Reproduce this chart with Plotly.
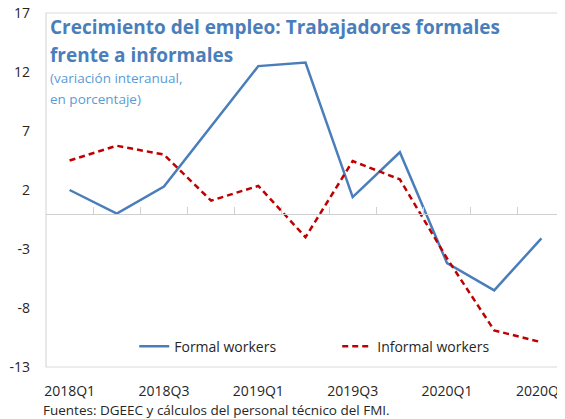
import plotly.graph_objects as go

quarters = ["2018Q1", "2018Q2", "2018Q3", "2018Q4", "2019Q1", "2019Q2",
            "2019Q3", "2019Q4", "2020Q1", "2020Q2", "2020Q3"]
formal = [2.0, 0.0, 2.3, 7.4, 12.5, 12.8, 1.4, 5.2, -4.2, -6.5, -2.1]
informal = [4.5, 5.75, 5.0, 1.1, 2.35, -2.0, 4.45, 2.9, -3.8, -9.9, -10.9]
x_tick_labels = ["2018Q1", "2018Q3", "2019Q1", "2019Q3", "2020Q1", "2020Q3"]
y_tick_vals = [17, 12, 7, 2, -3, -8, -13]
y_tick_text = ["17", "12", "7", "2", "-3", "-8", "-13"]

FONT = "Open Sans"
BLUE = "#4a7ebb"
RED = "#c00000"

fig = go.Figure()
fig.add_trace(go.Scatter(x=quarters, y=formal, mode="lines", name="Formal workers",
                         line=dict(color=BLUE, width=2.5)))
fig.add_trace(go.Scatter(x=quarters, y=informal, mode="lines", name="Informal workers",
                         line=dict(color=RED, width=2.5, dash="6px,4px")))

n = len(quarters)
# page body has an 8px default margin, so the figure is sized to fit the window
fig.update_layout(
    width=557, height=411,
    margin=dict(l=38, r=0, t=5, b=52, autoexpand=False),
    plot_bgcolor="white", paper_bgcolor="white",
    font=dict(family=FONT, size=13, color="#262626"),
    showlegend=True,
    legend=dict(orientation="h", x=0.17, y=0.012, xanchor="left", yanchor="bottom",
                bgcolor="rgba(0,0,0,0)", font=dict(size=14, color="#262626"),
                entrywidth=158, itemwidth=30),
    xaxis=dict(type="category", categoryarray=quarters, range=[-0.5, n - 0.5],
               tickvals=x_tick_labels, ticktext=x_tick_labels, automargin=False,
               showline=False, showgrid=False, zeroline=False, ticks="",
               ticklabelstandoff=14, tickfont=dict(size=14), ticklabeloverflow="allow"),
    xaxis2=dict(overlaying="x", anchor="free", position=13 / 30, range=[-0.5, n - 0.5],
                tickvals=[i + 0.5 for i in range(n - 1)], showticklabels=False,
                ticks="inside", ticklen=7, tickcolor="#d0d0d0", tickwidth=1,
                showline=True, linecolor="#d0d0d0", linewidth=1.2, automargin=False,
                showgrid=False, zeroline=False),
    yaxis=dict(range=[-13, 17], tickvals=y_tick_vals, ticktext=y_tick_text, automargin=False,
               showgrid=False, zeroline=False, showline=False, ticks="",
               ticklabelstandoff=15, tickfont=dict(size=14), ticklabeloverflow="allow"),
    shapes=[dict(type="rect", xref="paper", yref="paper", x0=0, x1=1.02, y0=0, y1=1,
                 line=dict(color="#d9d9d9", width=1.2), layer="below")],
    annotations=[
        dict(text="<b>Crecimiento del empleo: Trabajadores formales</b>",
             xref="paper", yref="paper", x=0, y=1, xanchor="left", yanchor="middle",
             xshift=2, yshift=-14, showarrow=False, align="left",
             font=dict(family=FONT, size=19, color=BLUE)),
        dict(text="<b>frente a informales</b>",
             xref="paper", yref="paper", x=0, y=1, xanchor="left", yanchor="middle",
             xshift=2, yshift=-42, showarrow=False, align="left",
             font=dict(family=FONT, size=19, color=BLUE)),
        dict(text="(variación interanual,",
             xref="paper", yref="paper", x=0, y=1, xanchor="left", yanchor="middle",
             xshift=2, yshift=-65, showarrow=False, align="left",
             font=dict(family=FONT, size=13.5, color="#5b9bd5")),
        dict(text="en porcentaje)",
             xref="paper", yref="paper", x=0, y=1, xanchor="left", yanchor="middle",
             xshift=2, yshift=-86, showarrow=False, align="left",
             font=dict(family=FONT, size=13.5, color="#5b9bd5")),
        dict(text="Fuentes: DGEEC y cálculos del personal técnico del FMI.",
             xref="paper", yref="paper", x=0, y=0, xanchor="left", yanchor="middle",
             xshift=-5, yshift=-43, showarrow=False, align="left",
             font=dict(family=FONT, size=13.5, color="#262626")),
    ],
)
# invisible helper trace so the zero-line axis (xaxis2) is rendered
fig.add_trace(go.Scatter(x=[0], y=[0], xaxis="x2", mode="markers", marker=dict(opacity=0),
                         showlegend=False, hoverinfo="skip"))
fig.write_html("out.html")
